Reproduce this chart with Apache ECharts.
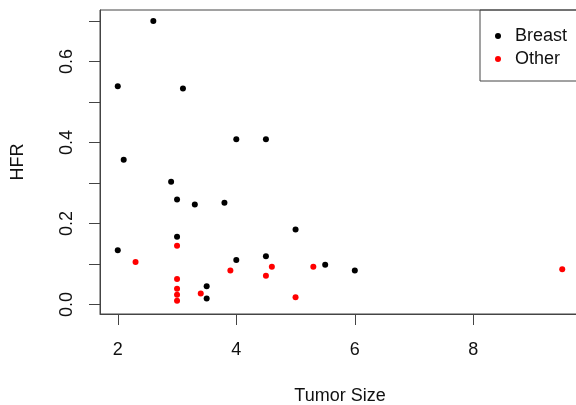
<!DOCTYPE html>
<html>
<head>
<meta charset="utf-8">
<script src="https://cdn.jsdelivr.net/npm/echarts@6/dist/echarts.min.js"></script>
<style>
  html, body { margin: 0; padding: 0; background: #fff; }
  #chart { width: 576px; height: 405px; }
</style>
</head>
<body>
<div id="chart"></div>
<script>
// tumor size (x) and HFR (y)
var breastSize = [2.6, 2.0, 3.1, 4.0, 4.5, 2.1, 2.9, 3.0, 3.3, 3.8, 3.0, 2.0, 4.0, 4.5, 3.5, 3.5, 5.0, 5.5, 6.0]
var breastHfr = [0.700, 0.539, 0.533, 0.408, 0.408, 0.357, 0.303, 0.259, 0.247, 0.251, 0.167, 0.134, 0.110, 0.119, 0.045, 0.015, 0.185, 0.098, 0.084]
var otherSize = [3.0, 2.3, 4.6, 3.9, 4.5, 3.0, 3.0, 3.0, 3.4, 3.0, 5.3, 5.0, 9.5]
var otherHfr = [0.145, 0.105, 0.093, 0.084, 0.071, 0.063, 0.039, 0.024, 0.027, 0.009, 0.093, 0.018, 0.087]

var xTicks = [2, 4, 6, 8]
var yTicks = [0, 0.1, 0.2, 0.3, 0.4, 0.5, 0.6, 0.7]
var yLabels = [0, 0.2, 0.4, 0.6]

function pairs(xs, ys) {
  return xs.map(function (x, i) { return [x, ys[i]] })
}

var font = 'Liberation Sans, Arial, sans-serif'
var chart = echarts.init(document.getElementById('chart'))

chart.setOption({
  animation: false,
  textStyle: { fontFamily: font },
  grid: {
    left: 100,
    right: -4,
    top: 10,
    bottom: 91,
    outerBoundsMode: 'none',
    containLabel: false,
    show: true,
    borderColor: '#444',
    borderWidth: 1
  },
  legend: {
    left: 480,
    top: 10,
    orient: 'vertical',
    padding: [17, 40, 13, 15],
    itemGap: 5,
    itemWidth: 6,
    itemHeight: 6,
    borderColor: '#444',
    borderWidth: 1,
    borderRadius: 0,
    textStyle: { fontSize: 18, color: '#111', fontFamily: font, padding: [0, 0, 0, 9] },
    data: [
      { name: 'Breast', icon: 'circle' },
      { name: 'Other', icon: 'circle' }
    ]
  },
  xAxis: {
    type: 'value',
    min: 1.7,
    max: 9.8,
    name: 'Tumor Size',
    nameLocation: 'middle',
    nameGap: 73,
    nameTextStyle: { fontSize: 18, color: '#111', fontFamily: font },
    axisLine: { onZero: false, lineStyle: { color: '#444' } },
    axisTick: { show: true, length: 11, inside: false, customValues: xTicks, lineStyle: { color: '#444' } },
    axisLabel: { fontSize: 18, color: '#111', margin: 27, customValues: xTicks },
    splitLine: { show: false }
  },
  yAxis: {
    type: 'value',
    min: -0.0235,
    max: 0.727,
    name: 'HFR',
    nameLocation: 'middle',
    nameRotate: 90,
    nameGap: 73,
    nameTextStyle: { fontSize: 18, color: '#111', fontFamily: font },
    axisLine: { show: true, onZero: false, lineStyle: { color: '#444' } },
    axisTick: { show: true, length: 11, inside: false, customValues: yTicks, lineStyle: { color: '#444' } },
    axisLabel: {
      fontSize: 18,
      color: '#111',
      rotate: 90,
      margin: 24,
      customValues: yLabels,
      formatter: function (v) { return v.toFixed(1) }
    },
    splitLine: { show: false }
  },
  series: [
    {
      name: 'Breast',
      type: 'scatter',
      symbol: 'circle',
      symbolSize: 6,
      itemStyle: { color: '#000', opacity: 1 },
      data: pairs(breastSize, breastHfr)
    },
    {
      name: 'Other',
      type: 'scatter',
      symbol: 'circle',
      symbolSize: 6,
      itemStyle: { color: '#ff0000', opacity: 1 },
      data: pairs(otherSize, otherHfr)
    }
  ]
})
</script>
</body>
</html>
